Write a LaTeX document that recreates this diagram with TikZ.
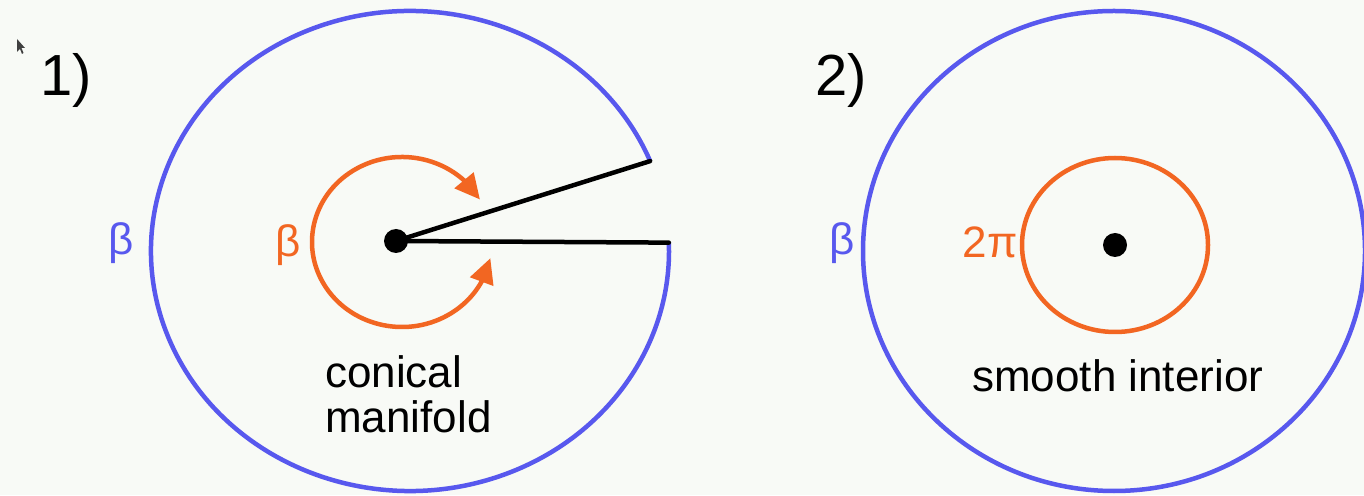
\documentclass[tikz,border=0pt]{standalone}
\usepackage{fontspec}
\setmainfont{Liberation Sans}
\usetikzlibrary{arrows.meta,bending,calc}
\definecolor{bg}{RGB}{248,250,246}
\definecolor{cblue}{RGB}{88,88,238}
\definecolor{corange}{RGB}{242,102,34}
\begin{document}
\begin{tikzpicture}[x=1pt,y=1pt,
  blueline/.style={draw=cblue,line width=4.5pt},
  orangeline/.style={draw=corange,line width=4.5pt},
  blackline/.style={draw=black,line width=4.5pt,line cap=round},
  dotstyle/.style={circle,fill=black,inner sep=0pt,minimum size=24pt},
  lab/.style={inner sep=0pt,font=\fontsize{44}{50}\selectfont},
  numlab/.style={inner sep=0pt,font=\fontsize{58}{64}\selectfont}]
\fill[bg] (0,0) rectangle (1364,495);
\useasboundingbox (0,0) rectangle (1364,495);
% cursor
\fill[black!75] (17,456) -- (17,443) -- (20,446) -- (22,441) -- (23.5,442) -- (21.5,447) -- (25,447) -- cycle;
% panel 1
\coordinate (E1) at (410,244);
\coordinate (u) at ($(E1)+(22:259 and 240)$);
\draw[blueline] (u) arc[start angle=22,end angle=362,x radius=259,y radius=240] coordinate (l);
\node[dotstyle] (d1) at (396,254) {};
\draw[blackline] (d1.center) -- (u);
\draw[blackline] (d1.center) -- (l);
\coordinate (O1) at (402,253);
\draw[orangeline,{Triangle[length=25pt,width=24pt]}-{Triangle[length=25pt,width=24pt]}] ($(O1)+(30:90 and 85)$) arc[start angle=30,end angle=349,x radius=90,y radius=85];
\node[lab,text=cblue,anchor=base] (b1) at (121,240) {β};
\node[lab,text=corange,anchor=base] (b2) at (288,238) {β};
\node[lab,anchor=base west] (t1) at (325,107) {conical};
\node[lab,anchor=base west] (t2) at (325,62) {manifold};
\node[numlab,anchor=base west] (n1) at (40,399) {1)};
% panel 2
\coordinate (E2) at (1114,244);
\draw[blueline] (E2) ellipse[x radius=251,y radius=240];
\coordinate (O2) at (1115,250);
\draw[orangeline] (O2) ellipse[x radius=93,y radius=87];
\node[dotstyle] (d2) at (O2) {};
\node[lab,text=cblue,anchor=base] (b3) at (842,240) {β};
\node[lab,text=corange,anchor=base] (p) at (990,237) {2π};
\node[lab,anchor=base west] (t3) at (972,103) {smooth interior};
\node[numlab,anchor=base west] (n2) at (815,399) {2)};
\end{tikzpicture}
\end{document}
